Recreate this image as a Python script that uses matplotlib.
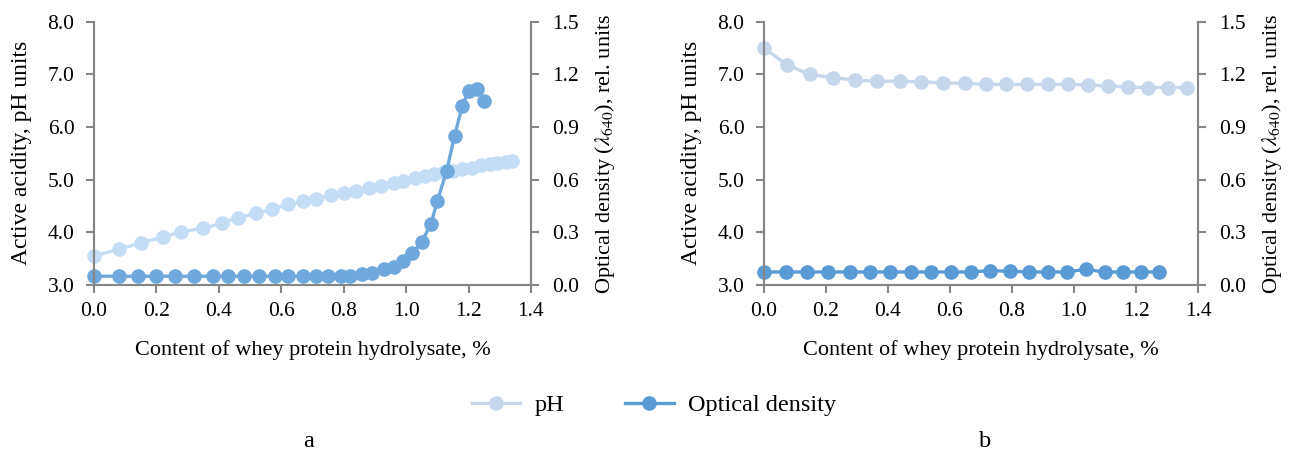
import matplotlib
matplotlib.use("Agg")
import matplotlib.pyplot as plt
from matplotlib.lines import Line2D

plt.rcParams["font.family"] = ["Liberation Serif", "DejaVu Serif"]
plt.rcParams["mathtext.fontset"] = "stix"
plt.rcParams["font.size"] = 15.5

# panel a
a_ph_x = [0.0, 0.08, 0.15, 0.22, 0.28, 0.35, 0.41, 0.46, 0.52, 0.57, 0.62, 0.67,
          0.71, 0.76, 0.80, 0.84, 0.88, 0.92, 0.96, 0.99, 1.03, 1.06, 1.09, 1.12,
          1.15, 1.18, 1.21, 1.24, 1.27, 1.29, 1.32, 1.34]
a_ph_y = [3.55, 3.68, 3.80, 3.91, 4.01, 4.08, 4.17, 4.28, 4.36, 4.44, 4.53, 4.59,
          4.63, 4.70, 4.74, 4.79, 4.84, 4.88, 4.94, 4.98, 5.03, 5.07, 5.11, 5.15,
          5.16, 5.20, 5.23, 5.27, 5.30, 5.32, 5.34, 5.36]
a_od_x = [0.0, 0.08, 0.14, 0.20, 0.26, 0.32, 0.38, 0.43, 0.48, 0.53, 0.58, 0.62,
          0.67, 0.71, 0.75, 0.79, 0.82, 0.86, 0.89, 0.93, 0.96, 0.99, 1.02, 1.05,
          1.08, 1.10, 1.13, 1.155, 1.18, 1.20, 1.227, 1.25]
a_od_y = [0.05, 0.05, 0.05, 0.05, 0.05, 0.05, 0.05, 0.05, 0.05, 0.05, 0.05, 0.05,
          0.05, 0.05, 0.05, 0.05, 0.05, 0.06, 0.07, 0.09, 0.10, 0.135, 0.18, 0.245,
          0.35, 0.48, 0.65, 0.85, 1.02, 1.105, 1.115, 1.05]

# panel b
b_ph_x = [0.0, 0.075, 0.147, 0.223, 0.294, 0.366, 0.438, 0.508, 0.577, 0.647, 0.715,
          0.781, 0.848, 0.916, 0.981, 1.046, 1.111, 1.175, 1.240, 1.303, 1.366]
b_ph_y = [7.50, 7.18, 7.00, 6.94, 6.89, 6.87, 6.87, 6.86, 6.84, 6.83, 6.81,
          6.81, 6.81, 6.81, 6.81, 6.80, 6.78, 6.76, 6.75, 6.75, 6.75]
b_od_x = [0.0, 0.072, 0.140, 0.208, 0.276, 0.343, 0.408, 0.473, 0.538, 0.604, 0.667,
          0.730, 0.792, 0.855, 0.917, 0.977, 1.038, 1.099, 1.158, 1.217, 1.274]
b_od_y = [0.074, 0.074, 0.074, 0.074, 0.074, 0.074, 0.074, 0.074, 0.074, 0.074, 0.074,
          0.082, 0.078, 0.074, 0.074, 0.074, 0.089, 0.074, 0.074, 0.074, 0.074]

GRAY = "#868686"
PH_A, OD_A = "#c5dcf7", "#6fa8dc"
PH_B, OD_B = "#c6d7ec", "#5b9bd5"
STYLE = dict(marker="o", ms=9.5, lw=2.4)

fig = plt.figure(figsize=(12.9, 4.5), dpi=100)


def panel(rect, phx, phy, odx, ody, c_ph, c_od):
    ax = fig.add_axes(rect)
    ax2 = ax.twinx()
    ax.plot(phx, phy, color=c_ph, clip_on=False, **STYLE)
    ax2.plot(odx, ody, color=c_od, clip_on=False, **STYLE)
    ax.set_xlim(0, 1.4)
    ax.set_ylim(3.0, 8.0)
    ax2.set_ylim(0, 1.5)
    ax.set_xticks([0.0, 0.2, 0.4, 0.6, 0.8, 1.0, 1.2, 1.4])
    ax.set_xticklabels([f"{v:.1f}" for v in ax.get_xticks()])
    ax.set_yticks([3, 4, 5, 6, 7, 8])
    ax.set_yticklabels([f"{v:.1f}" for v in ax.get_yticks()])
    ax2.set_yticks([0, 0.3, 0.6, 0.9, 1.2, 1.5])
    ax2.set_yticklabels([f"{v:.1f}" for v in ax2.get_yticks()])
    for a in (ax, ax2):
        a.spines["top"].set_visible(False)
        for s in ("left", "right", "bottom"):
            a.spines[s].set_color(GRAY)
            a.spines[s].set_linewidth(1.5)
        a.tick_params(colors=GRAY, labelcolor="black", length=6, width=1.5)
    ax.tick_params(axis="x", pad=6)
    ax.tick_params(axis="y", pad=8)
    ax2.tick_params(axis="y", pad=9)
    ax.set_xlabel("Content of whey protein hydrolysate, %", fontsize=16, labelpad=14)
    ax.set_ylabel("Active acidity, pH units", fontsize=17, labelpad=11)
    ax2.set_ylabel(r"Optical density ($\lambda_{640}$), rel. units", fontsize=16, labelpad=10)
    return ax


panel([0.0729, 0.3667, 0.3387, 0.585], a_ph_x, a_ph_y, a_od_x, a_od_y, PH_A, OD_A)
panel([0.5922, 0.3667, 0.3365, 0.585], b_ph_x, b_ph_y, b_od_x, b_od_y, PH_B, OD_B)

handles = [Line2D([], [], color=PH_B, **STYLE), Line2D([], [], color=OD_B, **STYLE)]
fig.legend(handles, ["pH", "Optical density"], loc="center", bbox_to_anchor=(0.507, 0.1),
           ncol=2, frameon=False, handlelength=2.0, handletextpad=0.6,
           columnspacing=2.5, fontsize=17.5)

fig.text(0.239, 0.007, "a", ha="center", va="baseline", fontsize=17.5)
fig.text(0.764, 0.007, "b", ha="center", va="baseline", fontsize=17.5)

fig.savefig("out.png", dpi=100)
